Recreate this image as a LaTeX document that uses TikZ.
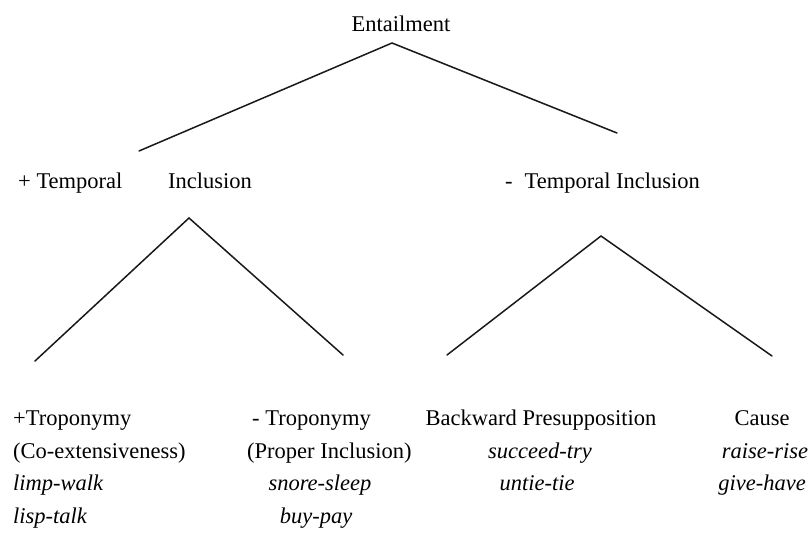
\documentclass[tikz,border=0pt]{standalone}
\usepackage{fontspec}
\setmainfont{Liberation Serif}
\usetikzlibrary{positioning}
\tikzstyle{term}=[inner sep=0pt, font=\fontsize{22.5}{27}\selectfont]
\tikzstyle{sample}=[inner sep=0pt, font=\fontsize{22.5}{27}\selectfont\itshape]
\tikzstyle{branch}=[line width=1.5pt, draw=black!90, line cap=round, line join=miter]

\begin{document}
\begin{tikzpicture}[x=1pt, y=-1pt]
    \useasboundingbox (0,0) rectangle (812,546);

    % ==== ROOT ====
    \node[term, anchor=base] (entail) at (401, 31) {Entailment};

    % ==== SECOND LEVEL ====
    \node[term, anchor=base west] (plusTemp) at (18, 188) {+\ Temporal};
    \node[term, anchor=base west] (plusIncl) at (168, 188) {Inclusion};
    \node[term, anchor=base west] (minusTemp) at (505, 188) {-\hspace{12pt}Temporal Inclusion};

    % ==== LEAVES: + Temporal Inclusion ====
    \node[term, anchor=base west] (plusTropo) at (13, 425) {+Troponymy};
    \node[term, anchor=base west] (coext) at (13, 458) {(Co-extensiveness)};
    \node[sample, anchor=base west] (limp) at (13, 490) {limp-walk};
    \node[sample, anchor=base west] (lisp) at (13, 523) {lisp-talk};

    \node[term, anchor=base west] (minusTropo) at (252, 425) {- Troponymy};
    \node[term, anchor=base west] (properIncl) at (247, 458) {(Proper Inclusion)};
    \node[sample, anchor=base] (snore) at (320, 490) {snore-sleep};
    \node[sample, anchor=base] (buy) at (316, 523) {buy-pay};

    % ==== LEAVES: - Temporal Inclusion ====
    \node[term, anchor=base] (backward) at (541, 425) {Backward Presupposition};
    \node[sample, anchor=base] (succeed) at (540, 458) {succeed-try};
    \node[sample, anchor=base] (untie) at (537, 490) {untie-tie};

    \node[term, anchor=base] (cause) at (762, 425) {Cause};
    \node[sample, anchor=base] (raise) at (765, 458) {raise-rise};
    \node[sample, anchor=base] (give) at (762, 490) {give-have};

    % ==== BRANCH POINTS ====
    \coordinate (rootTop) at (392, 43);
    \coordinate (rootL) at (139, 151);
    \coordinate (rootR) at (617, 133);
    \coordinate (plusTop) at (189, 218);
    \coordinate (plusL) at (35, 361);
    \coordinate (plusR) at (343, 355);
    \coordinate (minusTop) at (601, 236);
    \coordinate (minusL) at (447, 355);
    \coordinate (minusR) at (772, 356);

    % ==== BRANCHES ====
    \draw[branch] (rootL) -- (rootTop) -- (rootR);
    \draw[branch] (plusL) -- (plusTop) -- (plusR);
    \draw[branch] (minusL) -- (minusTop) -- (minusR);

\end{tikzpicture}
\end{document}
